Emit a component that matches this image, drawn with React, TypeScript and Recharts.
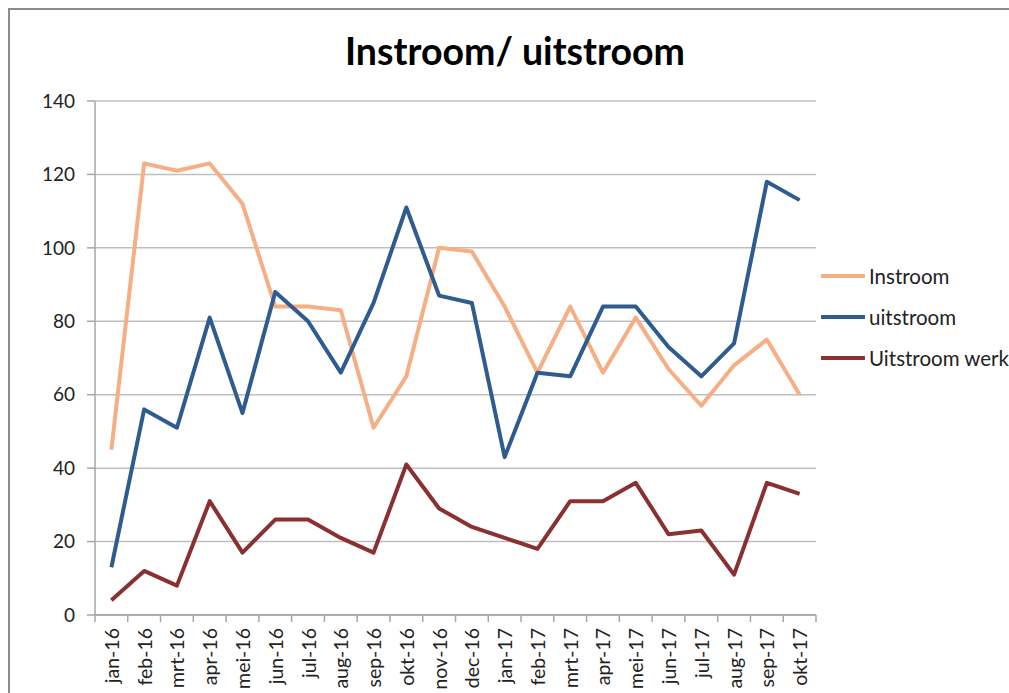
import { LineChart, Line, XAxis, YAxis, CartesianGrid, Legend } from "recharts"

const months = [
  "jan-16", "feb-16", "mrt-16", "apr-16", "mei-16", "jun-16", "jul-16", "aug-16", "sep-16", "okt-16", "nov-16",
  "dec-16", "jan-17", "feb-17", "mrt-17", "apr-17", "mei-17", "jun-17", "jul-17", "aug-17", "sep-17", "okt-17",
]
const instroom = [45, 123, 121, 123, 112, 84, 84, 83, 51, 65, 100, 99, 84, 66, 84, 66, 81, 67, 57, 68, 75, 60]
const uitstroom = [13, 56, 51, 81, 55, 88, 80, 66, 85, 111, 87, 85, 43, 66, 65, 84, 84, 73, 65, 74, 118, 113]
const uitstroomWerk = [4, 12, 8, 31, 17, 26, 26, 21, 17, 41, 29, 24, 21, 18, 31, 31, 36, 22, 23, 11, 36, 33]
const yTicks = [0, 20, 40, 60, 80, 100, 120, 140]
const seriesNames = ["Instroom", "uitstroom", "Uitstroom werk"]

const FONT = "Lato, 'Open Sans', sans-serif"

// pos puts each point in the middle of its category slot; whole numbers are
// the slot boundaries (tick marks), halves the month labels, like Excel does
const data = months.map((month, i) => ({
  month,
  pos: i + 0.5,
  instroom: instroom[i],
  uitstroom: uitstroom[i],
  werk: uitstroomWerk[i],
}))
const xTicks: number[] = []
for (let i = 0; i <= months.length; i++) {
  xTicks.push(i)
  if (i < months.length) xTicks.push(i + 0.5)
}

function MonthTick(props: any) {
  const { x, y, payload } = props
  const v = payload.value as number
  if (Number.isInteger(v)) {
    return <line x1={x} y1={y} x2={x} y2={y + 7} stroke="#a6a6a6" strokeWidth={1.5} />
  }
  const ty = y + 13
  return (
    <text
      x={x}
      y={ty}
      transform={`rotate(-90, ${x}, ${ty})`}
      textAnchor="end"
      dominantBaseline="central"
      fontSize={19.5}
      fontFamily={FONT}
      fill="#222"
    >
      {months[Math.floor(v)]}
    </text>
  )
}

function LegendRows(props: any) {
  const items = [...(props.payload || [])].sort(
    (a: any, b: any) => seriesNames.indexOf(a.value) - seriesNames.indexOf(b.value)
  )
  return (
    <div style={{ fontFamily: FONT, fontSize: 20.5, color: "#222" }}>
      {items.map((entry: any) => (
        <div key={entry.value} style={{ height: 41, display: "flex", alignItems: "center", whiteSpace: "nowrap" }}>
          <svg width={44} height={6} style={{ marginRight: 4 }}>
            <line x1={1} y1={3} x2={43} y2={3} stroke={entry.color} strokeWidth={4} strokeLinecap="round" />
          </svg>
          <span>{entry.value}</span>
        </div>
      ))}
    </div>
  )
}

export default function App() {
  return (
    <div
      style={{
        position: "fixed",
        left: 8,
        top: 8,
        width: 999,
        height: 683,
        borderLeft: "2px solid #8c8c8c",
        borderTop: "2px solid #8c8c8c",
        background: "#fff",
        overflow: "hidden",
      }}
    >
      {/* Title */}
      <div
        style={{
          position: "absolute",
          left: 0,
          top: 20,
          width: 1010,
          textAlign: "center",
          fontFamily: FONT,
          fontWeight: 700,
          fontSize: 37.5,
          lineHeight: "42px",
          color: "#000",
          zIndex: 2,
        }}
      >
        Instroom/ uitstroom
      </div>

      <LineChart width={999} height={683} data={data} margin={{ top: 91, right: 193, bottom: 0, left: 0 }}>
        <CartesianGrid stroke="#bfbfbf" strokeWidth={1.5} vertical={false} />
        <XAxis
          type="number"
          dataKey="pos"
          domain={[0, months.length]}
          ticks={xTicks}
          interval={0}
          tickLine={false}
          tickSize={0}
          tickMargin={0}
          height={78}
          stroke="#a6a6a6"
          strokeWidth={1.5}
          tick={<MonthTick />}
        />
        <YAxis
          domain={[0, 140]}
          ticks={yTicks}
          width={85}
          tickSize={8}
          tickMargin={12}
          stroke="#a6a6a6"
          strokeWidth={1.5}
          tick={{ fontSize: 19, fontFamily: FONT, fill: "#222" }}
        />
        <Legend
          layout="vertical"
          align="center"
          verticalAlign="middle"
          wrapperStyle={{ left: 811, top: 245, width: 260 }}
          content={<LegendRows />}
        />
        <Line
          type="linear"
          dataKey="instroom"
          name="Instroom"
          stroke="#f6ae84"
          strokeWidth={4}
          strokeLinejoin="round"
          dot={false}
          isAnimationActive={false}
        />
        <Line
          type="linear"
          dataKey="uitstroom"
          name="uitstroom"
          stroke="#2e5c8f"
          strokeWidth={4}
          strokeLinejoin="round"
          dot={false}
          isAnimationActive={false}
        />
        <Line
          type="linear"
          dataKey="werk"
          name="Uitstroom werk"
          stroke="#8b3030"
          strokeWidth={4}
          strokeLinejoin="round"
          dot={false}
          isAnimationActive={false}
        />
      </LineChart>
    </div>
  )
}
